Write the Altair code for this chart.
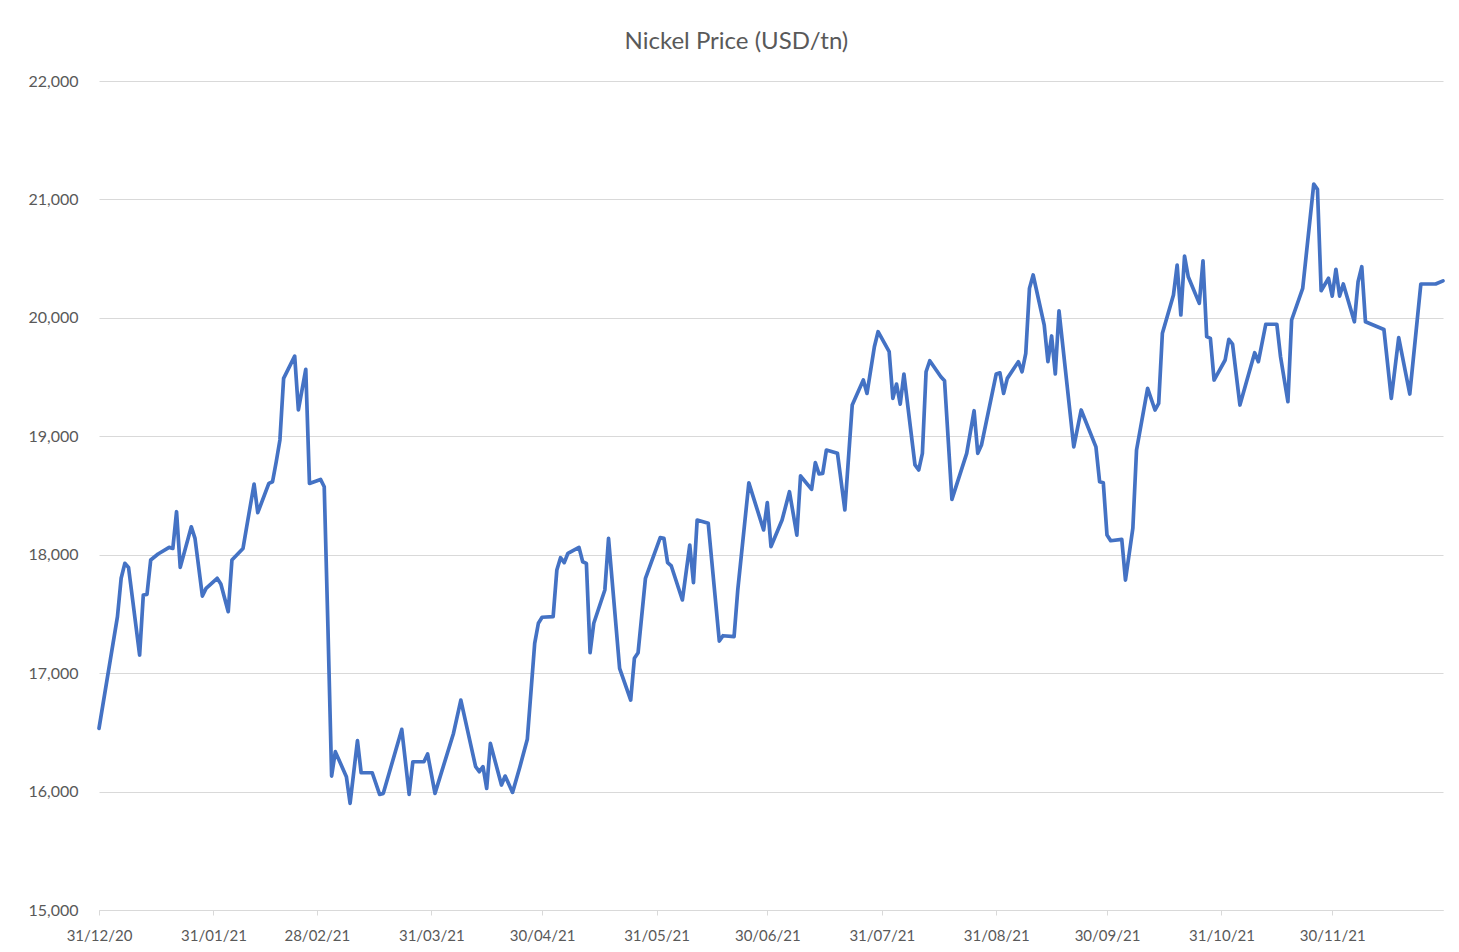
import altair as alt
import pandas as pd

# Days after 31/12/2020 of each vertex
days = [0, 5, 6, 7, 8, 11, 12, 13, 14, 16,
        19, 20, 21, 22, 25, 26, 28, 29, 32, 33,
        35, 36, 39, 40, 42, 43, 46, 47, 48, 49,
        50, 53, 54, 56, 57, 60, 61, 62, 63, 64,
        67, 68, 70, 71, 74, 76, 77, 82, 84, 85,
        88, 89, 91, 96, 98, 102, 103, 104, 105, 106,
        109, 110, 112, 114, 116, 118, 119, 120, 123, 124,
        125, 126, 127, 130, 131, 132, 133, 134, 137, 138,
        141, 144, 145, 146, 148, 152, 153, 154, 155, 158,
        160, 161, 162, 165, 168, 169, 172, 173, 176, 180,
        181, 182, 185, 187, 189, 190, 193, 194, 195, 196,
        197, 200, 202, 204, 207, 208, 210, 211, 214, 215,
        216, 217, 218, 221, 222, 223, 224, 225, 228, 229,
        231, 235, 237, 238, 239, 243, 244, 245, 246, 249,
        250, 251, 252, 253, 256, 257, 258, 259, 260, 264,
        266, 270, 271, 272, 273, 274, 277, 278, 280, 281,
        284, 286, 287, 288, 291, 292, 293, 294, 295, 298,
        299, 300, 301, 302, 305, 306, 307, 309, 313, 314,
        316, 319, 320, 322, 323, 326, 329, 330, 331, 333,
        334, 335, 336, 337, 340, 341, 342, 343, 348, 350,
        352, 355, 358, 362, 364]

price = [16534, 17477, 17801, 17927, 17893, 17153, 17660, 17665, 17955, 18006,
         18062, 18053, 18363, 17893, 18236, 18138, 17651, 17716, 17801, 17753,
         17519, 17955, 18053, 18236, 18597, 18355, 18602, 18616, 18785, 18969,
         19489, 19677, 19222, 19565, 18602, 18636, 18574, 17391, 16131, 16337,
         16126, 15901, 16430, 16159, 16159, 15976, 15985, 16525, 15976, 16252,
         16252, 16317, 15985, 16491, 16773, 16210, 16168, 16210, 16027, 16407,
         16055, 16131, 15993, 16210, 16441, 17252, 17421, 17472, 17477, 17871,
         17975, 17933, 18012, 18062, 17941, 17927, 17172, 17421, 17702, 18138,
         17041, 16773, 17125, 17172, 17801, 18144, 18138, 17933, 17905, 17618,
         18082, 17764, 18293, 18265, 17271, 17316, 17308, 17702, 18607, 18209,
         18440, 18069, 18293, 18532, 18166, 18665, 18552, 18777, 18682, 18687,
         18884, 18856, 18378, 19264, 19475, 19362, 19756, 19883, 19714, 19320,
         19441, 19272, 19526, 18758, 18715, 18856, 19545, 19638, 19503, 19469,
         18467, 18856, 19216, 18856, 18926, 19526, 19536, 19362, 19489, 19630,
         19545, 19700, 20249, 20362, 19939, 19630, 19847, 19526, 20060, 18911,
         19222, 18911, 18616, 18607, 18166, 18118, 18130, 17786, 18223, 18884,
         19405, 19222, 19278, 19870, 20193, 20446, 20024, 20522, 20347, 20122,
         20482, 19841, 19827, 19475, 19644, 19819, 19779, 19264, 19706, 19630,
         19946, 19946, 19672, 19292, 19982, 20249, 21130, 21085, 20229, 20334,
         20184, 20410, 20184, 20286, 19967, 20305, 20432, 19967, 19902, 19320,
         19833, 19357, 20286, 20286, 20312]

tick_dates = [(2020, 12, 31), (2021, 1, 31), (2021, 2, 28), (2021, 3, 31),
              (2021, 4, 30), (2021, 5, 31), (2021, 6, 30), (2021, 7, 31),
              (2021, 8, 31), (2021, 9, 30), (2021, 10, 31), (2021, 11, 30)]
y_ticks = [15000, 16000, 17000, 18000, 19000, 20000, 21000, 22000]

base = pd.Timestamp("2020-12-31")
df = pd.DataFrame({
    "date": [(base + pd.Timedelta(days=d)).strftime("%Y-%m-%d") for d in days],
    "price": price,
})

FONT = "Lato"
GREY = "#595959"

x_vals = [alt.DateTime(year=y, month=m, date=d, utc=True) for (y, m, d) in tick_dates]

chart = alt.Chart(df).mark_line(
    color="#4472C4", strokeWidth=3.7, strokeJoin="round", strokeCap="round"
).encode(
    x=alt.X("date:T",
            scale=alt.Scale(type="utc", nice=False,
                            domain=[alt.DateTime(year=2020, month=12, date=31, utc=True),
                                    alt.DateTime(year=2021, month=12, date=30, utc=True)]),
            axis=alt.Axis(title=None, values=x_vals,
                          labelExpr="utcFormat(datum.value, '%d/%m/%y')",
                          grid=False, domainColor="#d9d9d9", tickColor="#d9d9d9",
                          tickSize=5, labelPadding=13, labelFontSize=15, labelFont=FONT,
                          labelColor=GREY, labelFlush=False, labelOverlap=False)),
    y=alt.Y("price:Q",
            scale=alt.Scale(domain=[15000, 22000], nice=False, zero=False),
            axis=alt.Axis(title=None, values=y_ticks,
                          labelExpr="format(datum.value, ',')",
                          domain=False, ticks=False,
                          gridColor="#d9d9d9", gridWidth=1, labelPadding=21,
                          labelFontSize=16, labelFont=FONT, labelColor=GREY)),
).properties(
    width=1344,
    height=829,
    title=alt.TitleParams("Nickel Price (USD/tn)", font=FONT, fontSize=24, color=GREY,
                          fontWeight="normal", anchor="middle", frame="bounds", offset=19),
    autosize=alt.AutoSizeParams(type="none"),
    padding={"left": 91, "top": 73, "right": 8, "bottom": 34},
    background="white",
).configure_view(
    stroke="transparent"
)

chart.save("out.html", embed_options={"renderer": "svg", "actions": False})
